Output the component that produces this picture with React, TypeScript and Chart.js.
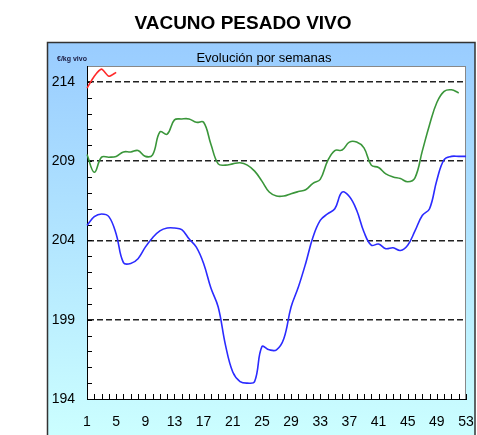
import React, { useEffect, useRef } from 'react';
import { Chart, registerables } from 'chart.js';

Chart.register(...registerables);

const TITLE = 'VACUNO PESADO VIVO';
const SUBTITLE = 'Evolución por semanas';
const UNIT = '€/kg vivo';

const weeks = [
  '1', '2', '3', '4', '5', '6', '7', '8', '9', '10',
  '11', '12', '13', '14', '15', '16', '17', '18', '19', '20',
  '21', '22', '23', '24', '25', '26', '27', '28', '29', '30',
  '31', '32', '33', '34', '35', '36', '37', '38', '39', '40',
  '41', '42', '43', '44', '45', '46', '47', '48', '49', '50',
  '51', '52', '53',
];

// current year (red)
const seriesCurrent = [213.6, 214.36, 214.8, 214.35, 214.6];

// previous year (green)
const seriesPrev = [
  209.42, 208.3, 209.25, 209.25, 209.3, 209.58, 209.58, 209.67, 209.3, 209.4,
  210.84, 210.7, 211.6, 211.66, 211.66, 211.45, 211.45, 210.07, 208.83, 208.75,
  208.83, 208.9, 208.75, 208.37, 207.74, 207.05, 206.8, 206.8, 206.95, 207.08,
  207.2, 207.6, 207.85, 209.0, 209.67, 209.7, 210.2, 210.2, 209.84, 208.75,
  208.6, 208.2, 208.0, 207.9, 207.7, 207.95, 209.63, 211.3, 212.7, 213.4,
  213.5, 213.3, null,
];

// two years ago (blue)
const seriesPrev2 = [
  204.95, 205.5, 205.67, 205.5, 204.4, 202.6, 202.55, 202.85, 203.58, 204.17,
  204.6, 204.78, 204.78, 204.68, 204.1, 203.58, 202.55, 201.0, 199.8, 197.4,
  195.7, 195.1, 195.0, 195.1, 197.3, 197.1, 197.1, 197.8, 199.8, 201.06,
  202.55, 204.2, 205.26, 205.67, 206.0, 207.04, 206.77, 205.9, 204.53, 203.7,
  203.77, 203.48, 203.54, 203.37, 203.7, 204.6, 205.57, 206.0, 207.8, 209.1,
  209.3, 209.3, 209.3,
];

const yMin = 194;
const yMax = 215;
const yLabelValues = [194, 199, 204, 209, 214];
const yDashedValues = [199, 204, 209, 214];

const FONT = "'Liberation Sans', Arial, sans-serif";

const panelPlugin = {
  id: 'panelPlugin',
  beforeDraw(chart: any) {
    const { ctx, chartArea } = chart;
    ctx.save();
    ctx.fillStyle = '#ffffff';
    ctx.fillRect(0, 0, chart.width, chart.height);
    const g = ctx.createLinearGradient(0, 42, 0, 440);
    g.addColorStop(0, '#99ccff');
    g.addColorStop(1, '#ccffff');
    ctx.fillStyle = g;
    ctx.fillRect(47.5, 42.5, 427.5, 400);
    ctx.strokeStyle = '#333333';
    ctx.lineWidth = 1.5;
    ctx.strokeRect(47.5, 42.5, 427.5, 400);
    ctx.fillStyle = '#ffffff';
    ctx.fillRect(chartArea.left, chartArea.top, chartArea.right - chartArea.left, chartArea.bottom - chartArea.top);
    ctx.strokeStyle = '#888888';
    ctx.lineWidth = 1;
    ctx.strokeRect(chartArea.left + 0.5, chartArea.top + 0.5, chartArea.right - chartArea.left - 1, chartArea.bottom - chartArea.top);

    ctx.fillStyle = '#000000';
    ctx.textAlign = 'center';
    ctx.textBaseline = 'middle';
    ctx.font = `bold 19px ${FONT}`;
    ctx.fillText(TITLE, 243, 24);
    ctx.font = `13px ${FONT}`;
    ctx.fillText(SUBTITLE, 264, 58);
    ctx.textAlign = 'left';
    ctx.font = `bold 7px ${FONT}`;
    ctx.fillStyle = '#1a1a40';
    ctx.fillText(UNIT, 57, 59);
    ctx.restore();
  },
  beforeDatasetsDraw(chart: any) {
    const { ctx, chartArea } = chart;
    const xs = chart.scales.x;
    const ys = chart.scales.y;
    ctx.save();
    ctx.strokeStyle = '#000000';
    ctx.lineWidth = 1;
    ctx.beginPath();
    for (let i = 0; i < weeks.length; i++) {
      const px = Math.round(xs.getPixelForValue(i)) + 0.5;
      ctx.moveTo(px, chartArea.bottom);
      ctx.lineTo(px, chartArea.bottom - 5);
    }
    for (let v = yMin; v < yMax; v++) {
      const py = Math.round(ys.getPixelForValue(v)) + 0.5;
      ctx.moveTo(chartArea.left, py);
      ctx.lineTo(chartArea.left + 5, py);
    }
    ctx.stroke();
    ctx.restore();
  },
};

export default function App() {
  const canvasRef = useRef<HTMLCanvasElement | null>(null);

  useEffect(() => {
    const canvas = canvasRef.current;
    if (!canvas) return;
    const chart = new Chart(canvas, {
      type: 'line',
      data: {
        labels: weeks,
        datasets: [
          {
            label: 'Año -2',
            data: seriesPrev2,
            borderColor: '#2b2bff',
            borderWidth: 1.6,
            pointRadius: 0,
            tension: 0.4,
            fill: false,
          },
          {
            label: 'Año -1',
            data: seriesPrev,
            borderColor: '#3a963a',
            borderWidth: 1.6,
            pointRadius: 0,
            tension: 0.4,
            fill: false,
            spanGaps: false,
          },
          {
            label: 'Año actual',
            data: seriesCurrent,
            borderColor: '#ff2a2a',
            borderWidth: 1.6,
            pointRadius: 0,
            tension: 0.2,
            fill: false,
          },
        ],
      },
      options: {
        animation: false,
        responsive: false,
        layout: { padding: { top: 66, left: 47, right: 11, bottom: 0 } },
        plugins: {
          legend: { display: false },
          title: { display: false },
          tooltip: { enabled: false },
        },
        scales: {
          x: {
            type: 'category',
            offset: false,
            grid: {
              display: true,
              offset: false,
              drawOnChartArea: false,
              drawTicks: false,
            },
            border: { display: true, color: '#000000', width: 1 },
            ticks: {
              autoSkip: false,
              maxRotation: 0,
              minRotation: 0,
              padding: 15,
              color: '#000000',
              font: { size: 14, family: FONT },
              callback: (_v: any, i: number) => (i % 4 === 0 ? weeks[i] : ''),
            },
            afterFit: (scale: any) => {
              scale.height = 36;
              scale.paddingLeft = 0;
              scale.paddingRight = 0;
            },
          },
          y: {
            min: yMin,
            max: yMax,
            grid: {
              display: true,
              drawOnChartArea: true,
              color: (c: any) =>
                c.tick && yDashedValues.includes(c.tick.value) ? '#222222' : 'rgba(0,0,0,0)',
              lineWidth: 1.5,
              drawTicks: false,
            },
            border: { display: true, color: '#000000', width: 1, dash: [6, 3] },
            ticks: {
              stepSize: 1,
              autoSkip: false,
              padding: 12,
              color: '#000000',
              font: { size: 14, family: FONT },
              callback: (v: any) => (yLabelValues.includes(Number(v)) ? String(v) : ''),
            },
            afterFit: (scale: any) => {
              scale.width = 40;
              scale.paddingTop = 0;
              scale.paddingBottom = 0;
            },
          },
        },
      },
      plugins: [panelPlugin],
    });
    return () => chart.destroy();
  }, []);

  return (
    <div style={{ position: 'absolute', left: 0, top: 0, width: 477, height: 435 }}>
      <canvas ref={canvasRef} width={477} height={435} style={{ display: 'block' }} />
    </div>
  );
}
